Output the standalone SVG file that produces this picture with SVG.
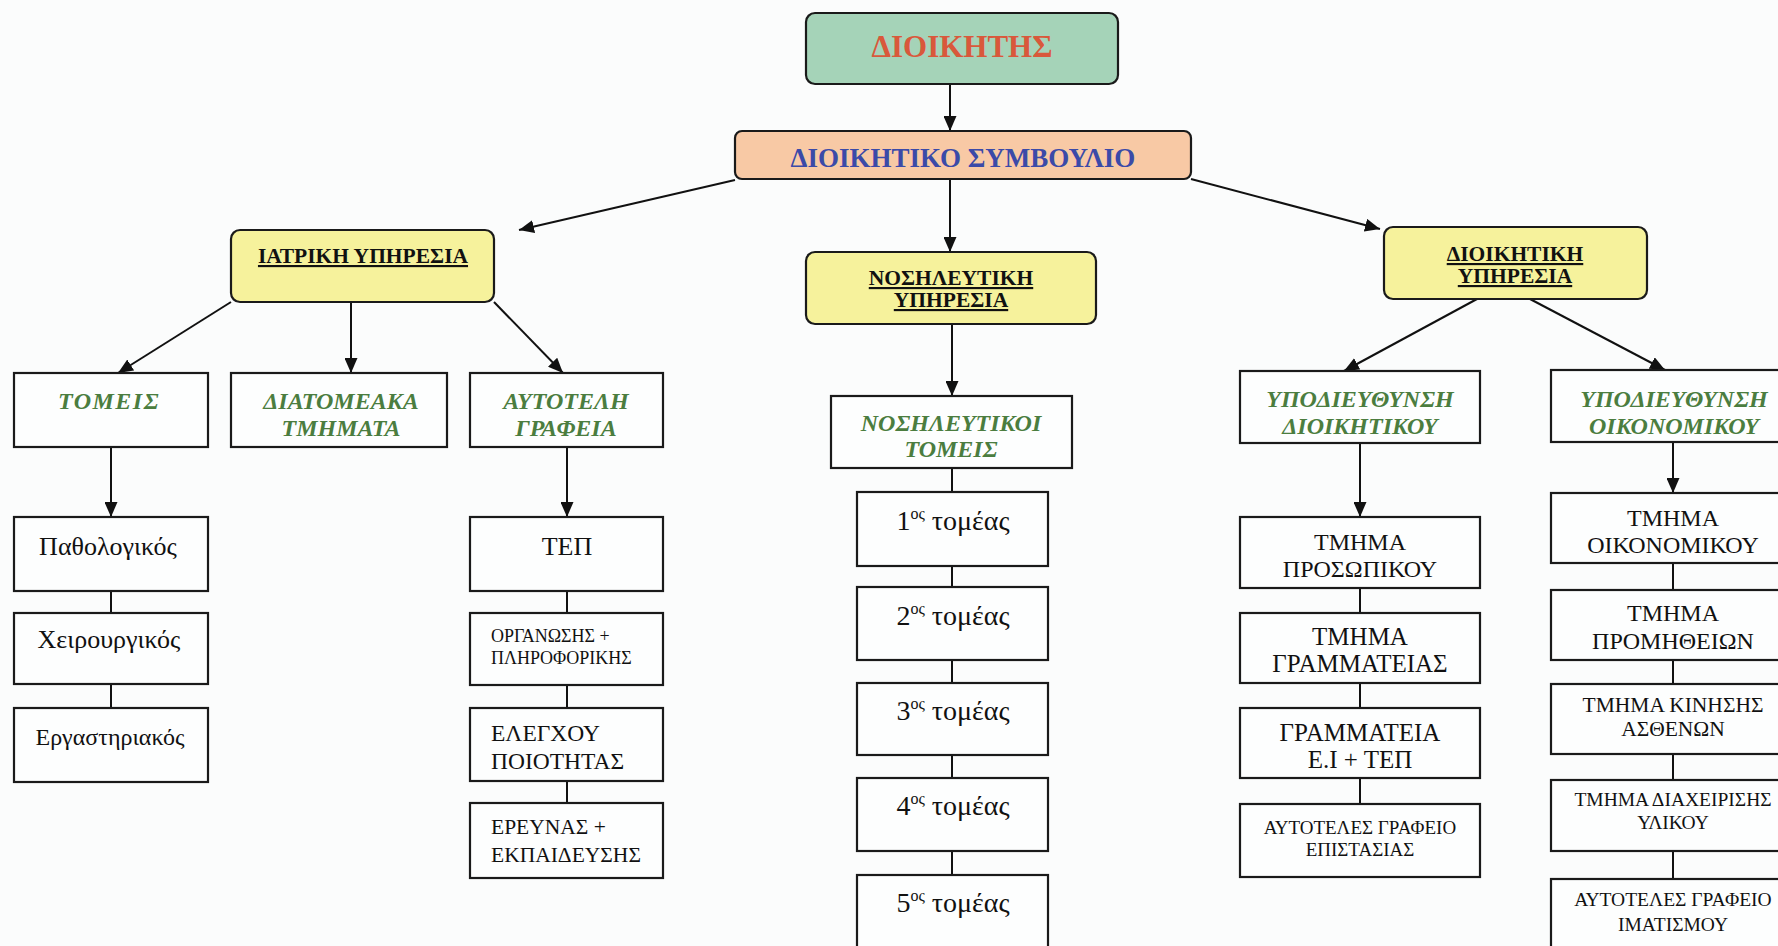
<svg xmlns="http://www.w3.org/2000/svg" width="1778" height="946" viewBox="0 0 1778 946">
  <style>
    text { font-family: "Liberation Serif", "DejaVu Serif", serif; text-anchor: middle; fill: #111; }
    .box { fill: #fdfefe; stroke: #1a1a1a; stroke-width: 2.2; }
    .rbox { stroke: #1a1a1a; stroke-width: 2.2; }
    .head { font-size: 21.5px; font-weight: bold; text-decoration: underline; }
    .grn { font-size: 24px; font-weight: bold; font-style: italic; fill: #4b7d3f; }
    .item { font-size: 24px; }
    .big { font-size: 26px; }
    .tom { font-size: 28px; }
    .small { font-size: 19px; }
    .mid { font-size: 21.5px; }
    .left { text-anchor: start; }
    .conn line { stroke: #111; stroke-width: 2; fill: none; }
    .conn .arr { marker-end: url(#arrow); }
  </style>
  <defs>
    <marker id="arrow" markerUnits="userSpaceOnUse" markerWidth="16" markerHeight="13" refX="15" refY="6.5" orient="auto">
      <path d="M0,0 L15,6.5 L0,13 z" fill="#111"/>
    </marker>
  </defs>

  <rect x="0" y="0" width="1778" height="946" fill="#fbfcfc"/>

  <!-- connectors -->
  <g id="connectors" class="conn">
    <line class="arr" x1="950" y1="84" x2="950" y2="131"/>
    <line class="arr" x1="950" y1="179" x2="950" y2="252"/>
    <line class="arr" x1="735" y1="180" x2="519" y2="230"/>
    <line class="arr" x1="1191" y1="179" x2="1380" y2="229"/>
    <line class="arr" x1="231" y1="302" x2="118" y2="373"/>
    <line class="arr" x1="351" y1="302" x2="351" y2="373"/>
    <line class="arr" x1="494" y1="302" x2="563" y2="373"/>
    <line class="arr" x1="1477" y1="299" x2="1344" y2="371"/>
    <line class="arr" x1="1530" y1="299" x2="1665" y2="370"/>
    <line class="arr" x1="952" y1="324" x2="952" y2="396"/>
    <!-- medical sectors column -->
    <line class="arr" x1="111" y1="447" x2="111" y2="517"/>
    <line x1="111" y1="591" x2="111" y2="613"/>
    <line x1="111" y1="684" x2="111" y2="708"/>
    <!-- independent offices column -->
    <line class="arr" x1="567" y1="447" x2="567" y2="517"/>
    <line x1="567" y1="591" x2="567" y2="613"/>
    <line x1="567" y1="685" x2="567" y2="708"/>
    <line x1="567" y1="781" x2="567" y2="803"/>
    <!-- nursing sectors column -->
    <line x1="952" y1="468" x2="952" y2="492"/>
    <line x1="952" y1="566" x2="952" y2="587"/>
    <line x1="952" y1="660" x2="952" y2="683"/>
    <line x1="952" y1="755" x2="952" y2="778"/>
    <line x1="952" y1="851" x2="952" y2="875"/>
    <!-- administrative column -->
    <line class="arr" x1="1360" y1="443" x2="1360" y2="517"/>
    <line x1="1360" y1="588" x2="1360" y2="613"/>
    <line x1="1360" y1="683" x2="1360" y2="708"/>
    <line x1="1360" y1="778" x2="1360" y2="804"/>
    <!-- financial column -->
    <line class="arr" x1="1673" y1="442" x2="1673" y2="493"/>
    <line x1="1673" y1="563" x2="1673" y2="590"/>
    <line x1="1673" y1="660" x2="1673" y2="684"/>
    <line x1="1673" y1="754" x2="1673" y2="780"/>
    <line x1="1673" y1="851" x2="1673" y2="879"/>
  </g>

  <!-- top levels -->
  <g id="dioikitis">
    <rect class="rbox" x="806" y="13" width="312" height="71" rx="9" fill="#a5d3b8"/>
    <text x="962" y="57" font-size="31" font-weight="bold" style="fill:#d9583b">ΔΙΟΙΚΗΤΗΣ</text>
  </g>
  <g id="dioikitiko-symvoulio">
    <rect class="rbox" x="735" y="131" width="456" height="48" rx="7" fill="#f8c9a5"/>
    <text x="963" y="167" font-size="27" font-weight="bold" style="fill:#3b4aa8">ΔΙΟΙΚΗΤΙΚΟ ΣΥΜΒΟΥΛΙΟ</text>
  </g>

  <!-- services -->
  <g id="iatriki-ypiresia">
    <rect class="rbox" x="231" y="230" width="263" height="72" rx="9" fill="#f6f29c"/>
    <text class="head" x="363" y="263">ΙΑΤΡΙΚΗ ΥΠΗΡΕΣΙΑ</text>
  </g>
  <g id="nosileftiki-ypiresia">
    <rect class="rbox" x="806" y="252" width="290" height="72" rx="9" fill="#f6f29c"/>
    <text class="head" x="951" y="285">ΝΟΣΗΛΕΥΤΙΚΗ</text>
    <text class="head" x="951" y="307">ΥΠΗΡΕΣΙΑ</text>
  </g>
  <g id="dioikitiki-ypiresia">
    <rect class="rbox" x="1384" y="227" width="263" height="72" rx="9" fill="#f6f29c"/>
    <text class="head" x="1515" y="261">ΔΙΟΙΚΗΤΙΚΗ</text>
    <text class="head" x="1515" y="283">ΥΠΗΡΕΣΙΑ</text>
  </g>

  <!-- divisions -->
  <g id="tomeis">
    <rect class="box" x="14" y="373" width="194" height="74"/>
    <text class="grn" x="109" y="409" letter-spacing="1.5">ΤΟΜΕΙΣ</text>
  </g>
  <g id="diatomeaka">
    <rect class="box" x="231" y="373" width="216" height="74"/>
    <text class="grn" x="341" y="409">ΔΙΑΤΟΜΕΑΚΑ</text>
    <text class="grn" x="341" y="436">ΤΜΗΜΑΤΑ</text>
  </g>
  <g id="autoteli-grafeia">
    <rect class="box" x="470" y="373" width="193" height="74"/>
    <text class="grn" x="566" y="409">ΑΥΤΟΤΕΛΗ</text>
    <text class="grn" x="566" y="436">ΓΡΑΦΕΙΑ</text>
  </g>
  <g id="nosileftikoi-tomeis">
    <rect class="box" x="831" y="396" width="241" height="72"/>
    <text class="grn" x="951" y="431">ΝΟΣΗΛΕΥΤΙΚΟΙ</text>
    <text class="grn" x="951" y="457">ΤΟΜΕΙΣ</text>
  </g>
  <g id="ypod-dioikitikou">
    <rect class="box" x="1240" y="371" width="240" height="72"/>
    <text class="grn" x="1360" y="407" font-size="25">ΥΠΟΔΙΕΥΘΥΝΣΗ</text>
    <text class="grn" x="1360" y="434" font-size="25">ΔΙΟΙΚΗΤΙΚΟΥ</text>
  </g>
  <g id="ypod-oikonomikou">
    <rect class="box" x="1551" y="370" width="245" height="72"/>
    <text class="grn" x="1674" y="407" font-size="25">ΥΠΟΔΙΕΥΘΥΝΣΗ</text>
    <text class="grn" x="1674" y="434" font-size="25">ΟΙΚΟΝΟΜΙΚΟΥ</text>
  </g>

  <!-- medical sectors -->
  <g id="pathologikos">
    <rect class="box" x="14" y="517" width="194" height="74"/>
    <text class="big" x="108" y="555">Παθολογικός</text>
  </g>
  <g id="cheirourgikos">
    <rect class="box" x="14" y="613" width="194" height="71"/>
    <text class="big" x="109" y="648">Χειρουργικός</text>
  </g>
  <g id="ergastiriakos">
    <rect class="box" x="14" y="708" width="194" height="74"/>
    <text class="item" x="110" y="745">Εργαστηριακός</text>
  </g>

  <!-- independent offices -->
  <g id="tep">
    <rect class="box" x="470" y="517" width="193" height="74"/>
    <text class="big" x="567" y="555">ΤΕΠ</text>
  </g>
  <g id="organosis">
    <rect class="box" x="470" y="613" width="193" height="72"/>
    <text class="left" x="491" y="642" font-size="18">ΟΡΓΑΝΩΣΗΣ +</text>
    <text class="left" x="491" y="664" font-size="18">ΠΛΗΡΟΦΟΡΙΚΗΣ</text>
  </g>
  <g id="elegchou">
    <rect class="box" x="470" y="708" width="193" height="73"/>
    <text class="left" x="491" y="741" font-size="23.5">ΕΛΕΓΧΟΥ</text>
    <text class="left" x="491" y="769" font-size="23.5">ΠΟΙΟΤΗΤΑΣ</text>
  </g>
  <g id="erevnas">
    <rect class="box" x="470" y="803" width="193" height="75"/>
    <text class="left mid" x="491" y="834">ΕΡΕΥΝΑΣ +</text>
    <text class="left mid" x="491" y="862">ΕΚΠΑΙΔΕΥΣΗΣ</text>
  </g>

  <!-- nursing sectors -->
  <g id="tomeas-1">
    <rect class="box" x="857" y="492" width="191" height="74"/>
    <text class="tom" x="953" y="530">1<tspan font-size="16" dy="-11">ος</tspan><tspan dy="11"> τομέας</tspan></text>
  </g>
  <g id="tomeas-2">
    <rect class="box" x="857" y="587" width="191" height="73"/>
    <text class="tom" x="953" y="625">2<tspan font-size="16" dy="-11">ος</tspan><tspan dy="11"> τομέας</tspan></text>
  </g>
  <g id="tomeas-3">
    <rect class="box" x="857" y="683" width="191" height="72"/>
    <text class="tom" x="953" y="720">3<tspan font-size="16" dy="-11">ος</tspan><tspan dy="11"> τομέας</tspan></text>
  </g>
  <g id="tomeas-4">
    <rect class="box" x="857" y="778" width="191" height="73"/>
    <text class="tom" x="953" y="815">4<tspan font-size="16" dy="-11">ος</tspan><tspan dy="11"> τομέας</tspan></text>
  </g>
  <g id="tomeas-5">
    <rect class="box" x="857" y="875" width="191" height="80"/>
    <text class="tom" x="953" y="912">5<tspan font-size="16" dy="-11">ος</tspan><tspan dy="11"> τομέας</tspan></text>
  </g>

  <!-- administrative departments -->
  <g id="tmima-prosopikou">
    <rect class="box" x="1240" y="517" width="240" height="71"/>
    <text class="item" x="1360" y="550">ΤΜΗΜΑ</text>
    <text class="item" x="1360" y="577">ΠΡΟΣΩΠΙΚΟΥ</text>
  </g>
  <g id="tmima-grammateias">
    <rect class="box" x="1240" y="613" width="240" height="70"/>
    <text x="1360" y="645" font-size="25">ΤΜΗΜΑ</text>
    <text x="1360" y="672" font-size="25">ΓΡΑΜΜΑΤΕΙΑΣ</text>
  </g>
  <g id="grammateia-ei-tep">
    <rect class="box" x="1240" y="708" width="240" height="70"/>
    <text x="1360" y="741" font-size="25">ΓΡΑΜΜΑΤΕΙΑ</text>
    <text x="1360" y="768" font-size="25">Ε.Ι + ΤΕΠ</text>
  </g>
  <g id="grafeio-epistasias">
    <rect class="box" x="1240" y="804" width="240" height="73"/>
    <text class="small" x="1360" y="834">ΑΥΤΟΤΕΛΕΣ ΓΡΑΦΕΙΟ</text>
    <text class="small" x="1360" y="856">ΕΠΙΣΤΑΣΙΑΣ</text>
  </g>

  <!-- financial departments -->
  <g id="tmima-oikonomikou">
    <rect class="box" x="1551" y="493" width="245" height="70"/>
    <text class="item" x="1673" y="526">ΤΜΗΜΑ</text>
    <text class="item" x="1673" y="553">ΟΙΚΟΝΟΜΙΚΟΥ</text>
  </g>
  <g id="tmima-promitheion">
    <rect class="box" x="1551" y="590" width="245" height="70"/>
    <text class="item" x="1673" y="621">ΤΜΗΜΑ</text>
    <text class="item" x="1673" y="649">ΠΡΟΜΗΘΕΙΩΝ</text>
  </g>
  <g id="tmima-kinisis">
    <rect class="box" x="1551" y="684" width="245" height="70"/>
    <text class="mid" x="1673" y="712">ΤΜΗΜΑ ΚΙΝΗΣΗΣ</text>
    <text class="mid" x="1673" y="736">ΑΣΘΕΝΩΝ</text>
  </g>
  <g id="tmima-diacheirisis">
    <rect class="box" x="1551" y="780" width="245" height="71"/>
    <text x="1673" y="806" font-size="19.5">ΤΜΗΜΑ ΔΙΑΧΕΙΡΙΣΗΣ</text>
    <text x="1673" y="829" font-size="19.5">ΥΛΙΚΟΥ</text>
  </g>
  <g id="grafeio-imatismou">
    <rect class="box" x="1551" y="879" width="245" height="80"/>
    <text x="1673" y="906" font-size="19.5">ΑΥΤΟΤΕΛΕΣ ΓΡΑΦΕΙΟ</text>
    <text x="1673" y="931" font-size="19.5">ΙΜΑΤΙΣΜΟΥ</text>
  </g>
</svg>
